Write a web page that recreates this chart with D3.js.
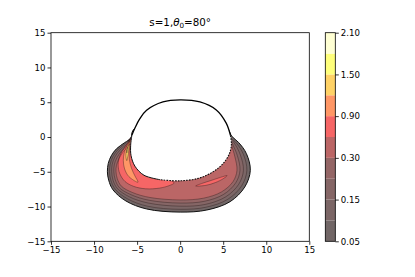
<!DOCTYPE html>
<html><head><meta charset="utf-8">
<script src="https://cdn.jsdelivr.net/npm/d3@7"></script>
<style>body{margin:0;background:#fff}svg{display:block}text{font-family:"DejaVu Sans",sans-serif}</style>
</head><body><svg id="c" width="415" height="277"></svg>
<script>
// ---- data ----
const levels = [0.05, 0.1, 0.15, 0.2, 0.3, 0.6, 0.9, 1.2, 1.5, 1.8, 2.1];
const cbTickLabels = ["0.05", "0.15", "0.30", "0.90", "1.50", "2.10"];
const cbTickIndex = [0, 2, 4, 6, 8, 10];
const xTicks = [-15, -10, -5, 0, 5, 10, 15];
const yTicks = [-15, -10, -5, 0, 5, 10, 15];
const title = { s: "s=1,", sym: "θ", sub: "0", rest: "=80°" };

// contour regions (value >= level), [x, y] in data units
const c005 = [[-5.45,1.0],[-5.75,-0.2],[-6.43,-0.8],[-7.4,-1.7],[-8.0,-2.7],[-8.35,-3.8],[-8.45,-5.0],[-8.3,-6.2],[-7.8,-7.6],[-6.3,-9.2],[-3.9,-10.35],[0,-10.8],[3.1,-10.5],[5.8,-9.3],[7.5,-7.2],[8.15,-4.8],[7.7,-2.4],[6.8,-0.8],[6.0,0.1],[5.5,1.2],[3,2.5],[-3,2.5]];
const c010 = [[-5.7,0.0],[-6.3,-0.85],[-7.2,-1.8],[-7.8,-2.8],[-8.12,-3.9],[-8.2,-5.0],[-8.05,-6.2],[-7.55,-7.5],[-6.1,-8.9],[-3.8,-9.95],[0,-10.4],[3.0,-10.1],[5.55,-8.95],[7.15,-7.0],[7.75,-4.8],[7.35,-2.5],[6.55,-0.9],[5.9,-0.2],[4.5,1.0],[-4.5,1.0]];
const c015 = [[-5.75,-0.2],[-6.15,-0.95],[-7.0,-1.9],[-7.6,-2.9],[-7.9,-4.0],[-7.95,-5.0],[-7.8,-6.2],[-7.3,-7.4],[-5.9,-8.6],[-3.7,-9.5],[0,-9.95],[2.9,-9.7],[5.3,-8.6],[6.8,-6.8],[7.35,-4.8],[7.0,-2.6],[6.35,-1.0],[5.9,-0.4],[4,0.5],[-4,0.5]];
const c020 = [[-5.8,-0.3],[-6.0,-1.0],[-6.8,-2.0],[-7.35,-3.0],[-7.65,-4.0],[-7.7,-5.0],[-7.55,-6.1],[-7.05,-7.3],[-5.7,-8.3],[-3.6,-9.1],[0,-9.5],[2.8,-9.25],[5.05,-8.25],[6.45,-6.6],[6.95,-4.8],[6.65,-2.7],[6.15,-1.2],[5.9,-0.6],[4,0],[-4,0]];
const c030 = [[-5.85,-0.4],[-5.9,-1.1],[-6.6,-2.1],[-7.1,-3.1],[-7.4,-4.1],[-7.45,-5.0],[-7.3,-6.0],[-6.8,-7.1],[-5.5,-8.0],[-3.5,-8.7],[0,-9.05],[2.7,-8.8],[4.8,-7.9],[6.15,-6.4],[6.6,-4.8],[6.35,-2.8],[6.0,-1.3],[5.9,-0.8],[4,-0.5],[-4,-0.5]];
const c060a = [[-5.2,0.0],[-5.9,-0.6],[-6.5,-1.6],[-7.0,-2.7],[-7.2,-4.0],[-7.0,-5.3],[-6.4,-6.4],[-5.4,-7.1],[-4.0,-7.45],[-2.4,-7.35],[-1.3,-7.0],[-0.7,-6.6],[-2.0,-5.8],[-4.5,-4.5],[-5.0,-2.0]];
const c060b = [[1.8,-7.05],[3.0,-6.95],[4.1,-6.55],[5.0,-6.0],[5.45,-5.55],[4.7,-5.8],[3.6,-6.25],[2.6,-6.65]];
const c090 = [[-5.75,-0.5],[-6.2,-1.3],[-6.5,-2.3],[-6.6,-3.4],[-6.45,-4.6],[-5.95,-5.7],[-4.9,-6.5],[-5.25,-5.6],[-5.65,-4.5],[-5.9,-3.2],[-5.9,-2.0],[-5.8,-1.0]];
const c120 = [[-5.9,-1.0],[-6.2,-1.8],[-6.3,-2.7],[-6.2,-3.4],[-6.05,-2.6],[-5.95,-1.7]];
const c150 = [[-6.05,-1.5],[-6.2,-1.9],[-6.2,-2.3],[-6.1,-1.9]];
const regions = [
  { level: 0.05, shapes: [c005] },
  { level: 0.1,  shapes: [c010] },
  { level: 0.15, shapes: [c015] },
  { level: 0.2,  shapes: [c020] },
  { level: 0.3,  shapes: [c030] },
  { level: 0.6,  shapes: [c060a, c060b] },
  { level: 0.9,  shapes: [c090] },
  { level: 1.2,  shapes: [c120] },
  { level: 1.5,  shapes: [c150] }
];
// sphere (excluded white region)
const domeUpper = [[-5.6,0.3],[-5.25,1.3],[-4.7,2.6],[-3.9,3.85],[-2.0,5.05],[0,5.35],[2.3,5.05],[4.2,3.9],[5.35,2.0],[5.85,0.2]];
const domeLowerRight = [[5.85,0.2],[5.95,-1.1],[5.75,-2.3],[5.2,-3.5],[4.5,-4.4],[3.4,-5.3],[2.1,-5.95],[0,-6.3],[-2.3,-6.15]];
const domeLowerLeft = [[-2.3,-6.15],[-4.2,-5.5],[-5.25,-4.2],[-5.7,-2.7],[-5.75,-1.2],[-5.6,0.3]];

// ---- drawing ----
const svg = d3.select("#c");
const x = d3.scaleLinear([-15, 15], [51, 309.3]);
const y = d3.scaleLinear([-15, 15], [241.3, 32.7]);

function hot(t) {
  const r = t < 0.365079 ? 0.0416 + t / 0.365079 * (1 - 0.0416) : 1;
  const g = t < 0.365079 ? 0 : t < 0.746032 ? (t - 0.365079) / (0.746032 - 0.365079) : 1;
  const b = t < 0.746032 ? 0 : (t - 0.746032) / (1 - 0.746032);
  const a = 0.6, m = v => Math.round(255 * (1 - a + a * v));
  return `rgb(${m(r)},${m(g)},${m(b)})`;
}
const lmin = levels[0], lmax = levels[levels.length - 1];
const bandColor = i => hot(((levels[i] + levels[i + 1]) / 2 - lmin) / (lmax - lmin));

const closed = d3.line().x(d => x(d[0])).y(d => y(d[1])).curve(d3.curveCatmullRomClosed.alpha(0.5));
const open = d3.line().x(d => x(d[0])).y(d => y(d[1])).curve(d3.curveCatmullRom.alpha(0.5));

const plot = svg.append("g");
regions.forEach(r => {
  const i = levels.indexOf(r.level);
  r.shapes.forEach(s => plot.append("path").attr("d", closed(s)).attr("fill", bandColor(i)));
});
regions.forEach((r, k) => {
  r.shapes.forEach(s => plot.append("path").attr("d", closed(s)).attr("fill", "none")
    .attr("stroke", k === 0 ? "#111" : "rgba(40,20,20,0.55)").attr("stroke-width", k === 0 ? 1 : 0.7));
});
const domeAll = domeUpper.concat(domeLowerRight.slice(1), domeLowerLeft.slice(1, -1));
plot.append("path").attr("d", closed(domeAll)).attr("fill", "#fff");
plot.append("path").attr("d", open(domeUpper)).attr("fill", "none").attr("stroke", "#000").attr("stroke-width", 1.3);
plot.append("path").attr("d", open(domeLowerLeft)).attr("fill", "none").attr("stroke", "#111").attr("stroke-width", 1);
plot.append("path").attr("d", open(domeLowerRight)).attr("fill", "none").attr("stroke", "#111").attr("stroke-width", 1.1).attr("stroke-dasharray", "1.6,1.2");

// axes
const fmt = d => d < 0 ? "\u2212" + Math.abs(d) : String(d);
const gx = svg.append("g").attr("transform", `translate(0,${y(-15)})`)
  .call(d3.axisBottom(x).tickValues(xTicks).tickSize(3.5).tickPadding(2).tickFormat(fmt));
const gy = svg.append("g").attr("transform", `translate(${x(-15)},0)`)
  .call(d3.axisLeft(y).tickValues(yTicks).tickSize(3.5).tickPadding(2).tickFormat(fmt));
svg.append("rect").attr("x", x(-15)).attr("y", y(15)).attr("width", x(15) - x(-15)).attr("height", y(-15) - y(15))
  .attr("fill", "none").attr("stroke", "#000").attr("stroke-width", 0.8);
[gx, gy].forEach(g => {
  g.select(".domain").remove();
  g.selectAll("line").attr("stroke", "#000").attr("stroke-width", 0.8);
  g.selectAll("text").attr("font-size", 8.6).attr("fill", "#000").attr("font-family", "DejaVu Sans");
});

// colorbar
const cbx0 = 325.3, cbw = 10;
const cb = d3.scaleLinear([0, levels.length - 1], [241.3, 32.7]);
for (let i = 0; i < levels.length - 1; i++) {
  svg.append("rect").attr("x", cbx0).attr("y", cb(i + 1)).attr("width", cbw).attr("height", cb(i) - cb(i + 1))
    .attr("fill", bandColor(i));
}
svg.append("rect").attr("x", cbx0).attr("y", cb(levels.length - 1)).attr("width", cbw).attr("height", cb(0) - cb(levels.length - 1))
  .attr("fill", "none").attr("stroke", "#000").attr("stroke-width", 0.8);
const gc = svg.append("g").attr("transform", `translate(${cbx0 + cbw},0)`)
  .call(d3.axisRight(cb).tickValues(cbTickIndex).tickSize(3.5).tickPadding(2).tickFormat((d, i) => cbTickLabels[i]));
gc.select(".domain").remove();
gc.selectAll("line").attr("stroke", "#000").attr("stroke-width", 0.8);
gc.selectAll("text").attr("font-size", 8.6).attr("fill", "#000").attr("font-family", "DejaVu Sans");

// title
const t = svg.append("text").attr("x", (x(-15) + x(15)) / 2).attr("y", 26).attr("text-anchor", "middle")
  .attr("font-size", 10.3).attr("fill", "#000");
t.append("tspan").text(title.s);
t.append("tspan").attr("font-style", "italic").text(title.sym);
t.append("tspan").attr("font-size", 7.2).attr("dy", 2).text(title.sub);
t.append("tspan").attr("dy", -2).text(title.rest);
</script></body></html>
